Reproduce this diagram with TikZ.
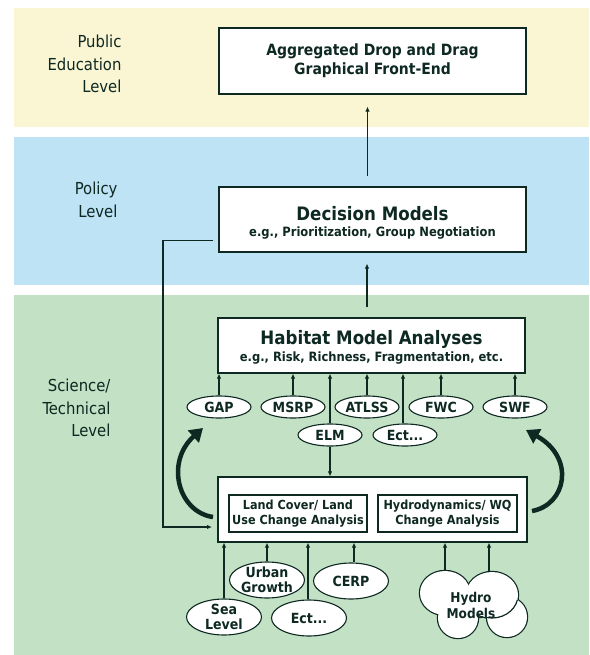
\documentclass[tikz,border=0pt]{standalone}
\usepackage{fontspec}
\setmainfont{DejaVu Sans Condensed}
\usetikzlibrary{arrows.meta,shapes.geometric}
\definecolor{bandY}{RGB}{250,246,212}
\definecolor{bandB}{RGB}{190,227,245}
\definecolor{bandG}{RGB}{195,225,197}
\definecolor{ink}{RGB}{14,40,34}
\begin{document}
\begin{tikzpicture}[x=1pt,y=-1pt,
  box/.style={draw=ink,line width=1.2pt,fill=white,inner sep=0pt,align=center,text=ink,font=\bfseries},
  ell/.style={ellipse,draw=ink,line width=1.1pt,fill=white,inner sep=0pt,minimum width=#1,minimum height=22pt},
  ell/.default=64pt,
  ellb/.style={ellipse,draw=ink,line width=1.1pt,fill=white,inner sep=0pt,minimum width=75pt,minimum height=36pt},
  etx/.style={align=center,text=ink,inner sep=0pt,font=\bfseries\fontsize{14}{15.5}\selectfont},
  lvl/.style={align=right,anchor=east,text=ink,font=\fontsize{16.5}{22.5}\selectfont},
  arr/.style={draw=ink,line width=1.4pt,-{Latex[length=5pt,width=4.5pt]}},
  bigarr/.style={draw=ink,line width=4.5pt,-{Triangle[length=13pt,width=16pt]}},
  cloudo/.style={draw=ink,line width=2.4pt},
  cloudf/.style={fill=white}
]
\useasboundingbox (0,0) rectangle (589,655);
% bands
\fill[bandY] (14,8) rectangle (589,127);
\fill[bandB] (14,137) rectangle (589,285);
\fill[bandG] (14,295) rectangle (589,655);
% level labels
\node[lvl] (l1) at (125,64) {Public\\Education\\Level};
\node[lvl] (l2) at (121,200) {Policy\\Level};
\node[lvl] (l3) at (114,408) {Science/\\Technical\\Level};
% main boxes
\node[box,minimum width=307pt,minimum height=66pt,font=\bfseries\fontsize{15.5}{19}\selectfont] (top) at (372.5,61) {Aggregated Drop and Drag\\Graphical Front-End};
\node[box,minimum width=307pt,minimum height=65pt] (dec) at (372.5,219.5) {};
\node[text=ink,font=\bfseries\fontsize{18.5}{20}\selectfont,inner sep=0pt] (dect) at (372.5,214) {Decision Models};
\node[text=ink,font=\bfseries\fontsize{12.8}{14}\selectfont,inner sep=0pt] (decs) at (372.5,233) {e.g., Prioritization, Group Negotiation};
\node[box,minimum width=307pt,minimum height=55pt] (hab) at (371.5,345.5) {};
\node[text=ink,font=\bfseries\fontsize{18.5}{20}\selectfont,inner sep=0pt] (habt) at (371.5,339) {Habitat Model Analyses};
\node[text=ink,font=\bfseries\fontsize{12.8}{14}\selectfont,inner sep=0pt] (habs) at (371.5,358) {e.g., Risk, Richness, Fragmentation, etc.};
\node[box,minimum width=309pt,minimum height=65pt] (bot) at (372.5,509.5) {};
\node[box,minimum width=138pt,minimum height=37pt,font=\bfseries\fontsize{12.5}{14.5}\selectfont] (in1) at (298,513.5) {Land Cover/ Land\\Use Change Analysis};
\node[box,minimum width=139pt,minimum height=37pt,font=\bfseries\fontsize{12.5}{14.5}\selectfont] (in2) at (447.5,513.5) {Hydrodynamics/ WQ\\Change Analysis};
% ellipses under habitat
\node[ell,label={[etx]center:GAP}] (gap) at (219,407) {};
\node[ell,label={[etx]center:MSRP}] (msrp) at (293,407) {};
\node[ell,label={[etx]center:ATLSS}] (atlss) at (367,407) {};
\node[ell,label={[etx]center:FWC}] (fwc) at (441,407) {};
\node[ell,label={[etx]center:SWF}] (swf) at (515,407) {};
\node[ell,label={[etx]center:ELM}] (elm) at (330,435) {};
\node[ell,label={[etx]center:Ect...}] (ect) at (405,435) {};
% inputs below bottom box
\node[ellb,label={[etx]center:{Urban\\Growth}}] (urban) at (267,580) {};
\node[ellb,label={[etx]center:CERP}] (cerp) at (351,581) {};
\node[ellb,label={[etx]center:{Sea\\Level}}] (sea) at (224,617) {};
\node[ellb,label={[etx]center:Ect...}] (ect2) at (309,618) {};
% hydro cloud: union outline, then fill, then one inner arc
\draw[cloudo] (507,617) circle (20);
\draw[cloudo] (458,618) circle (20);
\draw[cloudo] (445,593) ellipse (25 and 22);
\draw[cloudo] (492,595) ellipse (26 and 23);
\fill[cloudf] (507,617) circle (20);
\fill[cloudf] (458,618) circle (20);
\fill[cloudf] (445,593) ellipse (25 and 22);
\fill[cloudf] (492,595) ellipse (26 and 23);
\begin{scope}
  \clip (507,617) circle (20);
  \draw[draw=ink,line width=1.2pt] (492,595) ellipse (26 and 23);
\end{scope}
\node[align=center,text=ink,inner sep=0pt,font=\bfseries\fontsize{13.5}{16}\selectfont] (hydro) at (471,605) {Hydro\\Models};
\coordinate (h1) at (445,571);
\coordinate (h2) at (489,572);
% vertical arrows
\draw[arr] ([xshift=-5pt,yshift=10pt]dec.north) -- ([xshift=-5pt,yshift=-12pt]top.south);
\draw[arr] ([xshift=-4.5pt,yshift=10pt]hab.north) -- ([xshift=-5.5pt,yshift=-11pt]dec.south);
\foreach \n in {gap,msrp,elm,atlss,fwc,swf}
  \draw[arr] (\n.north) -- (\n.north |- hab.south);
\draw[arr] ([xshift=-2pt]ect.north) -- ([xshift=-2pt]ect.north |- hab.south);
\draw[arr] (elm.south) -- (elm.south |- bot.north);
\draw[arr] (sea.north) -- (sea.north |- bot.south);
\draw[arr] (urban.north) -- (urban.north |- bot.south);
\draw[arr] ([xshift=-1pt]ect2.north) -- ([xshift=-1pt]ect2.north |- bot.south);
\draw[arr] ([xshift=3pt]cerp.north) -- ([xshift=3pt]cerp.north |- bot.south);
\draw[arr] (h1) -- (h1 |- bot.south);
\draw[arr] (h2) -- (h2 |- bot.south);
% feedback connector
\coordinate (ds) at ([xshift=-5pt,yshift=12pt]dec.south west);
\coordinate (lx) at (163,0);
\coordinate (bin) at (212,527);
\draw[arr] (ds) -- (ds -| lx) -- (lx |- bin) -- (bin);
% big curved arrows
\coordinate (cl0) at (213,517);
\coordinate (cl1) at (203,428);
\coordinate (cr0) at (532,511);
\coordinate (cr1) at (526,430);
\draw[bigarr] (cl0) .. controls (178,512) and (165,462) .. (cl1);
\draw[bigarr] (cr0) .. controls (566,505) and (576,458) .. (cr1);
\end{tikzpicture}
\end{document}
